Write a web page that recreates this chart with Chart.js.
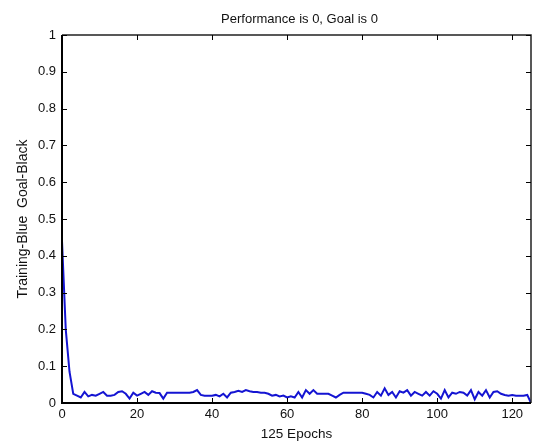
<!DOCTYPE html>
<html>
<head>
<meta charset="utf-8">
<script src="https://cdn.jsdelivr.net/npm/chart.js@4"></script>
<style>
  html, body { margin: 0; padding: 0; background: #fff; }
  #wrap { width: 534px; height: 443px; }
</style>
</head>
<body>
<div id="wrap"><canvas id="perfChart" width="534" height="443"></canvas></div>
<script>
// training error per epoch (0..125)
const epochs = [];
for (let i = 0; i <= 125; i++) epochs.push(i);

const trainingErr = [
  0.44, 0.2, 0.085, 0.025, 0.02, 0.015, 0.03, 0.018, 0.022, 0.02, 0.025,
  0.03, 0.02, 0.02, 0.022, 0.03, 0.032, 0.025, 0.012, 0.028, 0.02,
  0.025, 0.03, 0.022, 0.032, 0.028, 0.027, 0.012, 0.028, 0.028, 0.028,
  0.028, 0.028, 0.028, 0.028, 0.03, 0.035, 0.022, 0.02, 0.02, 0.02,
  0.022, 0.018, 0.025, 0.015, 0.028, 0.03, 0.033, 0.03, 0.035, 0.032,
  0.03, 0.03, 0.028, 0.028, 0.025, 0.02, 0.022, 0.018, 0.02, 0.015,
  0.018, 0.015, 0.03, 0.015, 0.035, 0.025, 0.035, 0.025, 0.025, 0.025,
  0.025, 0.02, 0.015, 0.022, 0.028, 0.028, 0.028, 0.028, 0.028, 0.028,
  0.025, 0.022, 0.015, 0.03, 0.02, 0.04, 0.022, 0.03, 0.015, 0.032,
  0.028, 0.035, 0.02, 0.03, 0.025, 0.02, 0.03, 0.02, 0.032, 0.025,
  0.012, 0.035, 0.015, 0.028, 0.025, 0.03, 0.028, 0.02, 0.035, 0.01,
  0.03, 0.02, 0.035, 0.015, 0.03, 0.032, 0.025, 0.022, 0.02, 0.022,
  0.02, 0.02, 0.02, 0.022, 0.0
];

const xTicks = [0, 20, 40, 60, 80, 100, 120];
const yTicks = [0, 0.1, 0.2, 0.3, 0.4, 0.5, 0.6, 0.7, 0.8, 0.9, 1];
const titleText = 'Performance is 0, Goal is 0';

const FONT = "'Liberation Sans', Arial, sans-serif";

// matlab style box with inward ticks + title over the axes
const matlabBox = {
  id: 'matlabBox',
  afterDraw(chart) {
    const { ctx, chartArea: a, scales } = chart;
    ctx.save();
    ctx.strokeStyle = '#222';
    ctx.lineWidth = 1.5;
    ctx.beginPath();
    ctx.moveTo(a.left, a.top);
    ctx.lineTo(a.right, a.top);
    ctx.lineTo(a.right, a.bottom);
    ctx.stroke();
    // left + bottom axis heavier
    ctx.strokeStyle = '#000';
    ctx.lineWidth = 2;
    ctx.beginPath();
    ctx.moveTo(a.left, a.top);
    ctx.lineTo(a.left, a.bottom);
    ctx.lineTo(a.right, a.bottom);
    ctx.stroke();
    ctx.lineWidth = 1;
    const len = 5;
    ctx.beginPath();
    xTicks.forEach(v => {
      const x = Math.round(scales.x.getPixelForValue(v)) + 0.5;
      ctx.moveTo(x, a.bottom); ctx.lineTo(x, a.bottom - len);
      ctx.moveTo(x, a.top); ctx.lineTo(x, a.top + len);
    });
    yTicks.forEach(v => {
      const y = Math.round(scales.y.getPixelForValue(v)) + 0.5;
      ctx.moveTo(a.left, y); ctx.lineTo(a.left + len, y);
      ctx.moveTo(a.right, y); ctx.lineTo(a.right - len, y);
    });
    ctx.stroke();
    ctx.fillStyle = '#111';
    ctx.font = '13px ' + FONT;
    ctx.textAlign = 'center';
    ctx.textBaseline = 'middle';
    ctx.fillText(titleText, (a.left + a.right) / 2 + 3, 19);
    ctx.restore();
  }
};

new Chart(document.getElementById('perfChart'), {
  type: 'line',
  data: {
    labels: epochs,
    datasets: [{
      label: 'Training',
      data: epochs.map((e, i) => ({ x: e, y: trainingErr[i] })),
      borderColor: '#1414d2',
      borderWidth: 2,
      pointRadius: 0,
      tension: 0,
      fill: false
    }]
  },
  options: {
    responsive: false,
    animation: false,
    layout: { padding: { top: 35, right: 3, left: 0, bottom: 0 } },
    plugins: {
      legend: { display: false },
      title: { display: false },
      tooltip: { enabled: false }
    },
    scales: {
      x: {
        type: 'linear',
        min: 0,
        max: 125,
        afterFit: s => { s.height = 40; },
        afterBuildTicks: s => { s.ticks = xTicks.map(v => ({ value: v })); },
        grid: { display: false, drawTicks: false },
        border: { display: false },
        ticks: { color: '#111', padding: 4, font: { family: FONT, size: 13 }, maxRotation: 0 },
        title: {
          display: true,
          text: '125 Epochs',
          color: '#111',
          font: { family: FONT, size: 13.5 },
          padding: { top: 0, bottom: 1 }
        }
      },
      y: {
        min: 0,
        max: 1,
        afterFit: s => { s.width = 62; },
        afterBuildTicks: s => { s.ticks = yTicks.map(v => ({ value: v })); },
        grid: { display: false, drawTicks: false },
        border: { display: false },
        ticks: {
          color: '#111',
          padding: 6,
          font: { family: FONT, size: 13 },
          callback: v => String(Math.round(v * 10) / 10)
        },
        title: {
          display: true,
          text: 'Training-Blue  Goal-Black',
          color: '#111',
          font: { family: FONT, size: 14 },
          padding: { top: 15, bottom: 0 }
        }
      }
    }
  },
  plugins: [matlabBox]
});
</script>
</body>
</html>
